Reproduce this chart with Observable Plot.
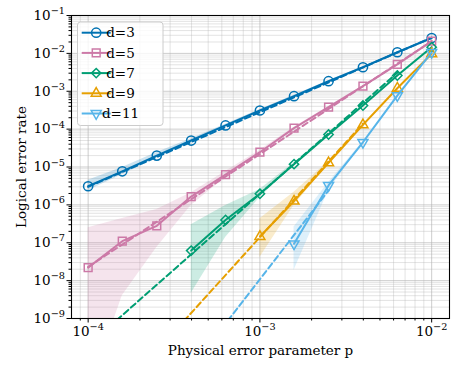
<!DOCTYPE html>
<html><head><meta charset="utf-8">
<script src="https://cdn.jsdelivr.net/npm/d3@7"></script>
<script src="https://cdn.jsdelivr.net/npm/@observablehq/plot@0.6"></script>
<style>body{margin:0;background:#fff} #chart{position:relative;width:459px;height:368px}</style>
</head><body><div id="chart"></div>
<script>
// ---- data ----
const pValues = [1.0e-4, 1.58e-4, 2.51e-4, 3.98e-4, 6.31e-4, 1.0e-3, 1.58e-3, 2.51e-3, 3.98e-3, 6.31e-3, 1.0e-2];
const seriesNames = ["d=3", "d=5", "d=7", "d=9", "d=11"];
const seriesColors = ["#0072B2", "#CC79A7", "#009E73", "#E69F00", "#56B4E9"];

const rate_d3 = [3.1e-6, 7.7e-6, 2.0e-5, 5.0e-5, 1.25e-4, 3.1e-4, 7.4e-4, 1.84e-3, 4.3e-3, 1.07e-2, 2.55e-2];
const lo_d3   = [2.4e-6, 6.2e-6, 1.7e-5, 4.5e-5, 1.15e-4, 2.9e-4, 7.0e-4, 1.78e-3, 4.2e-3, 1.05e-2, 2.5e-2];
const hi_d3   = [4.5e-6, 9.7e-6, 2.4e-5, 5.6e-5, 1.35e-4, 3.3e-4, 7.8e-4, 1.9e-3, 4.4e-3, 1.09e-2, 2.6e-2];

const rate_d5 = [2.2e-8, 1.1e-7, 2.8e-7, 1.66e-6, 6.3e-6, 2.46e-5, 1.06e-4, 3.8e-4, 1.36e-3, 5.1e-3, 2.1e-2];
const lo_d5   = [1e-11, 4e-9, 7.5e-8, 9.6e-7, 5.3e-6, 2.2e-5, 1.0e-4, 3.65e-4, 1.33e-3, 5.0e-3, 2.07e-2];
const hi_d5   = [2.5e-7, 4.4e-7, 7.5e-7, 2.1e-6, 7.6e-6, 2.75e-5, 1.12e-4, 3.95e-4, 1.39e-3, 5.2e-3, 2.13e-2];

const rate_d7 = [null, null, null, 6.2e-8, 4.0e-7, 1.96e-6, 1.19e-5, 7.2e-5, 4.2e-4, 2.6e-3, 1.46e-2];
const lo_d7   = [null, null, null, 4.6e-9, 1.38e-7, 1.57e-6, 1.1e-5, 6.9e-5, 4.1e-4, 2.55e-3, 1.43e-2];
const hi_d7   = [null, null, null, 3.0e-7, 9.6e-7, 2.55e-6, 1.3e-5, 7.5e-5, 4.3e-4, 2.65e-3, 1.49e-2];

const rate_d9 = [null, null, null, null, null, 1.46e-7, 1.25e-6, 1.29e-5, 1.30e-4, 1.2e-3, 9.7e-3];
const lo_d9   = [null, null, null, null, null, 4.1e-8, 9.6e-7, 1.2e-5, 1.26e-4, 1.18e-3, 9.5e-3];
const hi_d9   = [null, null, null, null, null, 4.3e-7, 2.16e-6, 1.4e-5, 1.34e-4, 1.22e-3, 9.9e-3];

const rate_d11 = [null, null, null, null, null, null, 9.4e-8, 3.25e-6, 4.5e-5, 7.7e-4, 1.07e-2];
const lo_d11   = [null, null, null, null, null, null, 1.85e-8, 2.4e-6, 4.3e-5, 7.6e-4, 1.05e-2];
const hi_d11   = [null, null, null, null, null, null, 2.6e-7, 3.9e-6, 4.7e-5, 7.8e-4, 1.09e-2];

// dashed fit lines: [p at start, p at end] and the fitted rate there
const fitP_d3  = [1.0e-4, 1.0e-2],  fit_d3  = [3.0e-6, 2.6e-2];
const fitP_d5  = [1.0e-4, 1.0e-2],  fit_d5  = [2.3e-8, 2.1e-2];
const fitP_d7  = [1.0e-4, 6.31e-3], fit_d7  = [1.96e-10, 3.1e-3];
const fitP_d9  = [1.0e-4, 3.98e-3], fit_d9  = [1.4e-12, 1.4e-4];
const fitP_d11 = [1.0e-4, 2.51e-3], fit_d11 = [1.5e-14, 2.4e-6];

const yTickValues = [1e-9, 1e-8, 1e-7, 1e-6, 1e-5, 1e-4, 1e-3, 1e-2, 1e-1];
const xTickValues = [1e-4, 1e-3, 1e-2];

// ---- assemble ----
const rateArrays = [rate_d3, rate_d5, rate_d7, rate_d9, rate_d11];
const loArrays = [lo_d3, lo_d5, lo_d7, lo_d9, lo_d11];
const hiArrays = [hi_d3, hi_d5, hi_d7, hi_d9, hi_d11];
const fitPArrays = [fitP_d3, fitP_d5, fitP_d7, fitP_d9, fitP_d11];
const fitArrays = [fit_d3, fit_d5, fit_d7, fit_d9, fit_d11];
const symbols = [d3.symbolCircle, d3.symbolSquare, d3.symbolDiamond2, d3.symbolTriangle, d3.symbolTriangle];
const rotations = [0, 0, 0, 0, 180];
const radii = [4.6, 4.4, 4.2, 3.7, 3.7];

const rowsBySeries = seriesNames.map((s, i) =>
  pValues.map((p, j) => ({series: s, p, rate: rateArrays[i][j], lo: loArrays[i][j], hi: hiArrays[i][j]}))
    .filter(d => d.rate != null));
const fitBySeries = seriesNames.map((s, i) => fitPArrays[i].map((p, j) => ({series: s, p, rate: fitArrays[i][j]})));

const minorY = [];
for (let e = -9; e < -1; e++) for (let k = 2; k <= 9; k++) minorY.push(k * Math.pow(10, e));
const minorX = [9e-5];
for (let e = -4; e < -2; e++) for (let k = 2; k <= 9; k++) minorX.push(k * Math.pow(10, e));

const fmt = d => "10^" + Math.round(Math.log10(d));
const gridStroke = "#b0b0b0";

const seriesMarks = seriesNames.flatMap((s, i) => [
  Plot.areaY(rowsBySeries[i], {x: "p", y1: "lo", y2: "hi", fill: seriesColors[i], fillOpacity: 0.2, clip: true}),
  Plot.line(fitBySeries[i], {x: "p", y: "rate", stroke: seriesColors[i], strokeWidth: 2, strokeDasharray: "6,3.5", clip: true}),
  Plot.line(rowsBySeries[i], {x: "p", y: "rate", stroke: seriesColors[i], strokeWidth: 2, clip: true}),
  Plot.dot(rowsBySeries[i], {x: "p", y: "rate", symbol: symbols[i], r: radii[i], rotate: rotations[i],
    fill: "none", stroke: seriesColors[i], strokeWidth: 1.5})
]);

const chart = Plot.plot({
  width: 459, height: 368,
  marginLeft: 71, marginRight: 10, marginTop: 15, marginBottom: 50,
  style: {fontFamily: "'DejaVu Serif', serif", fontSize: "13.5px", background: "white", color: "black"},
  x: {type: "log", domain: [8.0e-5, 1.27e-2]},
  y: {type: "log", domain: [1e-9, 1e-1]},
  marks: [
    Plot.gridX(minorX, {stroke: gridStroke, strokeOpacity: 0.45, strokeWidth: 0.8}),
    Plot.gridX(xTickValues, {stroke: gridStroke, strokeOpacity: 0.8, strokeWidth: 0.8}),
    Plot.gridY(minorY, {stroke: gridStroke, strokeOpacity: 0.45, strokeWidth: 0.8}),
    Plot.gridY(yTickValues, {stroke: gridStroke, strokeOpacity: 0.8, strokeWidth: 0.8}),
    ...seriesMarks,
    Plot.frame({stroke: "black", strokeWidth: 1.1}),
    Plot.axisX(minorX, {tickSize: 2.5, tickFormat: () => "", label: null}),
    Plot.axisX(xTickValues, {tickSize: 4.5, tickPadding: 3, tickFormat: fmt,
      label: "Physical error parameter p", labelAnchor: "center", labelArrow: "none", labelOffset: 36}),
    Plot.axisY(minorY, {tickSize: 2.5, tickFormat: () => "", label: null}),
    Plot.axisY(yTickValues, {tickSize: 4.5, tickPadding: 2, tickFormat: fmt,
      label: "Logical error rate", labelAnchor: "center", labelArrow: "none", labelOffset: 55})
  ]
});

// superscript exponents
d3.select(chart).selectAll("text").each(function() {
  const t = this.textContent;
  const m = /^10\^(-?\d+)$/.exec(t);
  if (!m) return;
  const el = d3.select(this);
  el.text("");
  el.append("tspan").text("10");
  el.append("tspan").attr("dy", "-0.6em").attr("font-size", "0.72em")
    .text((+m[1] < 0 ? "\u2212" : "") + Math.abs(+m[1]));
});

// legend (upper left, inside the frame)
const svg = d3.select(chart);
const lg = svg.append("g").attr("font-family", "'DejaVu Serif', serif").attr("font-size", 13.5);
lg.append("rect").attr("x", 77.5).attr("y", 22).attr("width", 85.5).attr("height", 103.5)
  .attr("rx", 3).attr("fill", "white").attr("fill-opacity", 0.8).attr("stroke", "#cccccc").attr("stroke-width", 1);
seriesNames.forEach((s, i) => {
  const yy = 32.7 + i * 20.2;
  lg.append("line").attr("x1", 81.7).attr("x2", 110.7).attr("y1", yy).attr("y2", yy)
    .attr("stroke", seriesColors[i]).attr("stroke-width", 2);
  lg.append("path").attr("d", d3.symbol(symbols[i], Math.PI * radii[i] * radii[i])())
    .attr("transform", `translate(96.2,${yy}) rotate(${rotations[i]})`)
    .attr("fill", "none").attr("stroke", seriesColors[i]).attr("stroke-width", 1.5);
  lg.append("text").attr("x", 120.5).attr("y", yy).attr("dy", "0.35em").attr("fill", "black").text(s);
});

document.getElementById("chart").appendChild(chart);
</script></body></html>
